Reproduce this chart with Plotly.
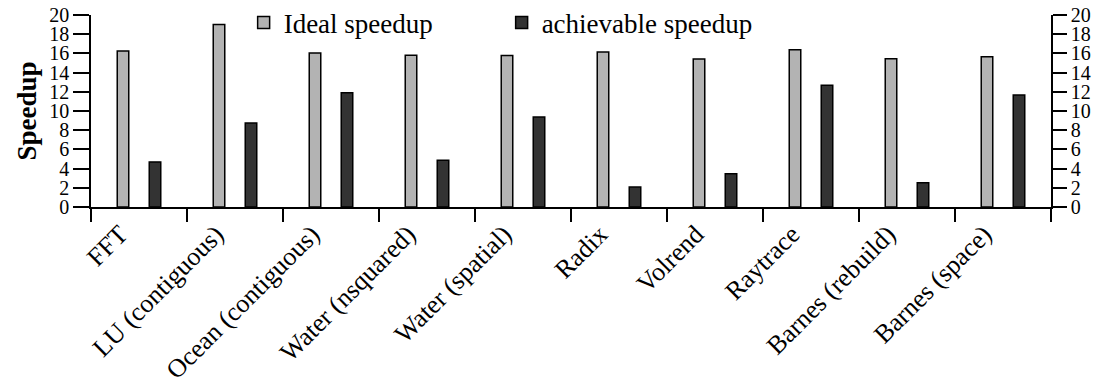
import plotly.graph_objects as go

categories = ["FFT", "LU (contiguous)", "Ocean (contiguous)", "Water (nsquared)",
              "Water (spatial)", "Radix", "Volrend", "Raytrace",
              "Barnes (rebuild)", "Barnes (space)"]
ideal = [16.25, 19.0, 16.05, 15.8, 15.77, 16.15, 15.42, 16.39, 15.45, 15.66]
achievable = [4.7, 8.75, 11.9, 4.86, 9.37, 2.08, 3.47, 12.67, 2.53, 11.67]
y_ticks = list(range(0, 21, 2))

FONT = "Liberation Serif"

fig = go.Figure()
fig.add_trace(go.Bar(x=categories, y=ideal, name="Ideal speedup",
                     marker=dict(color="#b3b3b3", line=dict(color="black", width=1.5))))
fig.add_trace(go.Bar(x=categories, y=achievable, name="achievable speedup",
                     marker=dict(color="#333333", line=dict(color="black", width=1.5))))
# invisible trace to anchor the right-hand axis
fig.add_trace(go.Scatter(x=[categories[0]], y=[0], yaxis="y2", mode="markers",
                         marker=dict(opacity=0), showlegend=False, hoverinfo="skip"))

fig.update_layout(
    width=1096, height=386,
    margin=dict(l=91, r=45, t=15, b=179, autoexpand=False),
    paper_bgcolor="white", plot_bgcolor="white",
    font=dict(family=FONT, color="black", size=20),
    barmode="group", bargap=1/3, bargroupgap=0.64,
    showlegend=True,
    legend=dict(orientation="h", x=0.159, xanchor="left", y=0.958, yanchor="middle",
                font=dict(family=FONT, size=27, color="black"),
                bgcolor="rgba(0,0,0,0)", entrywidth=213, entrywidthmode="pixels",
                itemwidth=30),
    xaxis=dict(type="category", range=[-0.5, 9.5], showline=True, linecolor="black",
               linewidth=1.5, ticks="outside", tickson="boundaries", ticklen=13,
               tickwidth=1.5, tickcolor="black", tickangle=-45, showgrid=False,
               zeroline=False, ticklabelshift=-19,
               tickfont=dict(family=FONT, size=26, color="black")),
    yaxis=dict(range=[0, 20], tickvals=y_ticks, showline=True, linecolor="black",
               linewidth=1.5, ticks="outside", ticklen=16, tickwidth=1.5,
               tickcolor="black", showgrid=False, zeroline=False,
               tickfont=dict(family=FONT, size=20, color="black"),
               title=dict(text="<b>Speedup</b>", standoff=5,
                          font=dict(family=FONT, size=27, color="black"))),
    yaxis2=dict(range=[0, 20], tickvals=y_ticks, overlaying="y", side="right",
                showline=True, linecolor="black", linewidth=1.5, ticks="outside",
                ticklen=14, tickwidth=1.5, tickcolor="black", showgrid=False,
                zeroline=False, tickfont=dict(family=FONT, size=20, color="black")),
)

fig.write_html("out.html")
